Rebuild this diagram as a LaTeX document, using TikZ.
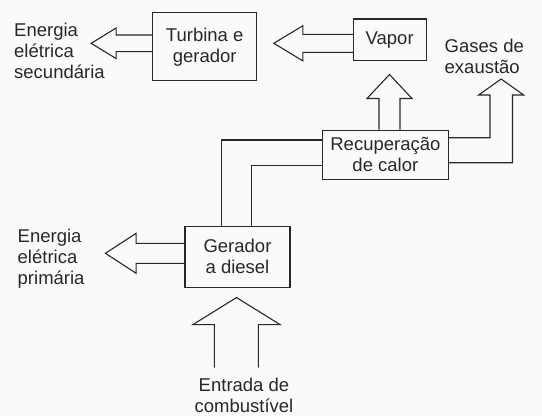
\documentclass[tikz,border=0pt]{standalone}
\usepackage{fontspec}
\setmainfont{Liberation Sans}
\usetikzlibrary{calc}
\definecolor{ink}{RGB}{40,40,40}
\definecolor{paper}{RGB}{250,250,250}
\tikzset{
  blk/.style={draw=ink, line width=1.1pt, inner sep=0pt, align=center, text=ink},
  lbl/.style={align=left, inner sep=0pt, text=ink},
  pipe/.style={draw=ink, line width=1.1pt, line join=miter}
}
\begin{document}
\begin{tikzpicture}[x=1pt,y=-1pt,font=\fontsize{18.5}{21}\selectfont]
\fill[paper] (0,0) rectangle (542,416);
\useasboundingbox (0,0) rectangle (542,416);
\node[blk, minimum width=104pt, minimum height=68pt] (turb) at (204.7,46.8) {Turbina e\\gerador};
\node[blk, minimum width=72.7pt, minimum height=41.7pt] (vapor) at (389.7,39.8) {Vapor};
\node[blk, minimum width=126pt, minimum height=49.3pt] (recup) at (385.4,154.7) {Recuperação\\de calor};
\node[blk, minimum width=105pt, minimum height=61pt] (gerador) at (237.5,256.8) {Gerador\\a diesel};
\node[lbl, anchor=west] (sec) at (14,50.5) {Energia\\elétrica\\secundária};
\node[lbl, anchor=west] (prim) at (17.5,259) {Energia\\elétrica\\primária};
\node[lbl, anchor=west] (gases) at (444.5,56.3) {Gases de\\exaustão};
\node[align=center, inner sep=0pt, text=ink] (entrada) at (244,395) {Entrada de\\combustível};
\draw[pipe] ([yshift=5.5pt]vapor.west) -- ++(-50,0) -- ++(0,-8.5) -- ++(-29,17.5) -- ++(29,17.5) -- ++(0,-8.5) -- ++(50,0);
\draw[pipe] ([yshift=11.8pt]turb.west) -- ++(-36,0) -- ++(0,-7) -- ++(-25,15.3) -- ++(25,15.3) -- ++(0,-7) -- ++(36,0);
\draw[pipe] ([xshift=-6.4pt]recup.north) -- ++(0,-31) -- ++(-12,0) -- ++(22.5,-24) -- ++(22.5,24) -- ++(-12,0) -- ++(0,31);
\draw[pipe] ([yshift=17pt]recup.east) -- ++(41,0) -- ++(0,-42.7) -- ++(-11.3,0) -- ++(22.5,-16) -- ++(22.5,16) -- ++(-11.2,0) |- ([yshift=-8pt]recup.east);
\draw[pipe] ([xshift=-15.8pt]gerador.north) |- ([yshift=14.7pt]recup.west);
\draw[pipe] ([xshift=14.2pt]gerador.north) |- ([yshift=-11pt]recup.west);
\draw[pipe] ([yshift=13.5pt]gerador.west) -- ++(-48.3,0) -- ++(0,-10) -- ++(-30.7,20) -- ++(30.7,20) -- ++(0,-10) -- ++(48.3,0);
\draw[pipe] ([xshift=-23.2pt,yshift=-79.7pt]gerador.south) -- ++(0,-43) -- ++(-21.3,0) -- ++(43.5,-27) -- ++(43.5,27) -- ++(-21.7,0) -- ++(0,43);
\end{tikzpicture}
\end{document}
